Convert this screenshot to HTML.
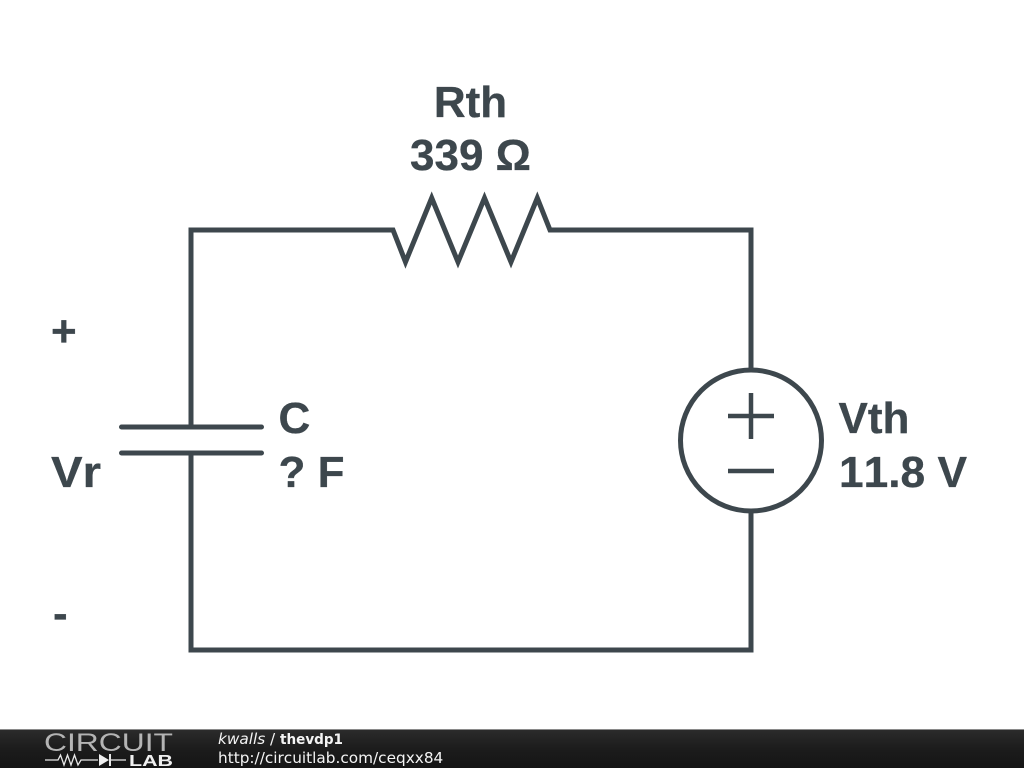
<!DOCTYPE html>
<html>
<head>
<meta charset="utf-8">
<title>thevdp1</title>
<style>
html,body{margin:0;padding:0;background:#fff;width:1024px;height:768px;overflow:hidden}
svg{display:block}
text{font-kerning:none}
</style>
</head>
<body>
<svg width="1024" height="768" viewBox="0 0 1024 768" xmlns="http://www.w3.org/2000/svg">
<defs>
<linearGradient id="bar" x1="0" y1="0" x2="0" y2="1">
<stop offset="0" stop-color="#2c2c2c"/>
<stop offset="0.5" stop-color="#1c1c1c"/>
<stop offset="1" stop-color="#151515"/>
</linearGradient>
</defs>
<rect width="1024" height="768" fill="#fff"/>
<g fill="none" stroke="#3d474d" stroke-width="5">
<path d="M191 427V230H393L405.500 262L431.700 198L458 262L484.500 198L511 262L537.300 198L550 230H751V369M751 512V650H191V453" stroke-linejoin="miter" stroke-miterlimit="10"/>
<path d="M121.500 427H261.500M121.500 453H261.500" stroke-linecap="round"/>
<circle cx="751" cy="440.500" r="70.500"/>
<path d="M751 393V439M728 416H774M728 471H774" stroke-width="4.500"/>
</g>
<g font-family="'Liberation Sans',sans-serif" font-weight="700" font-size="44" fill="#3d474d" stroke="#3d474d" stroke-width="0.300">
<text x="470.500" y="117" text-anchor="middle">Rth</text>
<text x="470.500" y="170" text-anchor="middle">339 Ω</text>
<text x="838.500" y="433">Vth</text>
<text x="839" y="487" textLength="128" lengthAdjust="spacingAndGlyphs">11.8 V</text>
<text x="278.500" y="433">C</text>
<text x="278.500" y="487">? F</text>
<text x="51" y="487" textLength="50" lengthAdjust="spacingAndGlyphs">Vr</text>
<text x="51" y="346">+</text>
<text x="53" y="628">-</text>
</g>
<rect x="0" y="729" width="1024" height="39" fill="url(#bar)"/>
<rect x="0" y="729" width="1024" height="1" fill="#8a8a8a"/>
<text x="44" y="751" font-family="'Liberation Sans',sans-serif" font-size="25" fill="#b4b4b4" textLength="129" lengthAdjust="spacingAndGlyphs">CIRCUIT</text>
<g fill="none" stroke="#e8e8e8" stroke-width="1.300">
<path d="M45 760H58L60.500 755L64 765L67.500 755L71 765L74.500 755L78 765L81 760H98M110 760H126"/>
<path d="M110 754V766" stroke-width="2"/>
</g>
<path d="M99 754L109 760L99 766Z" fill="#f0f0f0"/>
<text x="129" y="766" font-family="'Liberation Sans',sans-serif" font-weight="700" font-size="16" fill="#f0f0f0" textLength="44" lengthAdjust="spacingAndGlyphs">LAB</text>
<g font-family="'DejaVu Sans',sans-serif" fill="#f4f4f4">
<text x="218" y="744" font-size="15.300" font-style="italic">kwalls</text>
<text x="270" y="744" font-size="15.300">/</text>
<text x="280" y="744" font-size="14.400" font-weight="700" textLength="63" lengthAdjust="spacingAndGlyphs">thevdp1</text>
<text x="218" y="763" font-size="15.300">http://circuitlab.com/ceqxx84</text>
</g>
</svg>
</body>
</html>
